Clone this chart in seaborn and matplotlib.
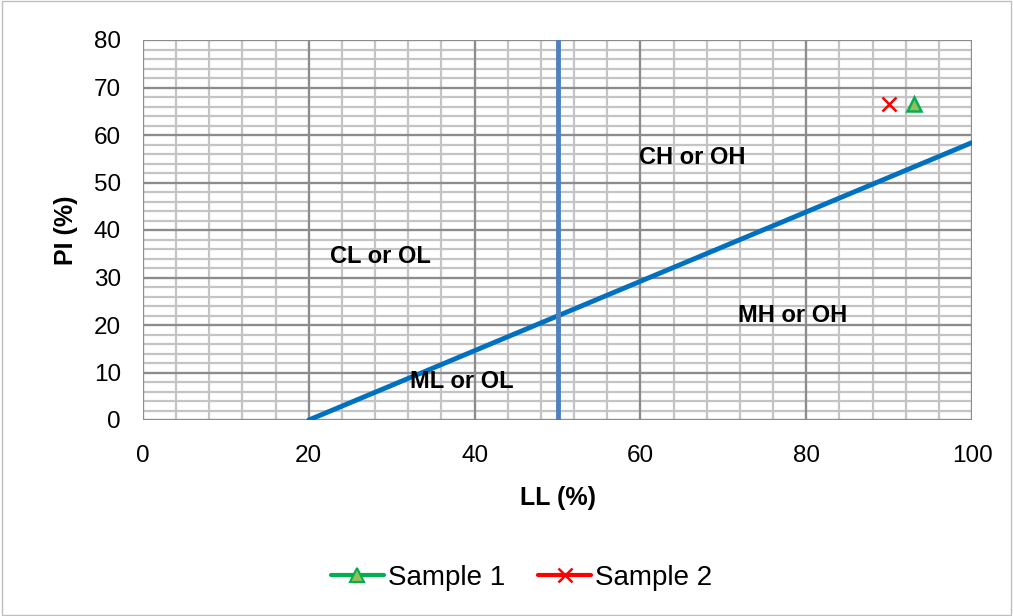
import matplotlib
matplotlib.use("Agg")
import matplotlib.pyplot as plt
import seaborn as sns
import pandas as pd
import numpy as np
from matplotlib.lines import Line2D

sns.set_style("white")
plt.rcParams['font.family'] = ['Liberation Sans', 'DejaVu Sans']
plt.rcParams['text.color'] = 'black'
plt.rcParams['axes.labelcolor'] = 'black'
plt.rcParams['xtick.labelcolor'] = 'black'
plt.rcParams['ytick.labelcolor'] = 'black'

# Data
a_line_ll = [20, 100]
a_line_pi = [0, 58.4]
ll50_x = [50, 50]
ll50_y = [0, 80]
sample1_ll = [93]
sample1_pi = [66.5]
sample2_ll = [90]
sample2_pi = [66.5]
zone_labels = ["CL or OL", "CH or OH", "MH or OH", "ML or OL"]
zone_x = [28.7, 66.3, 78.4, 38.5]
zone_y = [34.5, 55.3, 22.0, 8.0]
x_ticks = [0, 20, 40, 60, 80, 100]
y_ticks = [0, 10, 20, 30, 40, 50, 60, 70, 80]

fig = plt.figure(figsize=(10.13, 6.16), dpi=100)
ax = fig.add_axes([143/1013, 1-420/616, (972-143)/1013, (420-40)/616])

# grid
for v in np.arange(0, 101, 4):
    ax.axvline(v, color="#c4c4c4", lw=1.6, zorder=0)
for v in np.arange(0, 81, 2):
    ax.axhline(v, color="#c4c4c4", lw=1.6, zorder=0)
for v in x_ticks:
    ax.axvline(v, color="#8c8c8c", lw=1.6, zorder=0.5)
for v in y_ticks:
    ax.axhline(v, color="#8c8c8c", lw=1.6, zorder=0.5)

sns.lineplot(x=a_line_ll, y=a_line_pi, ax=ax, color="#0070C0", lw=3.5, zorder=3,
             estimator=None, sort=False)
sns.lineplot(x=ll50_x, y=ll50_y, ax=ax, color="#4F81BD", lw=3.5, zorder=3,
             estimator=None, sort=False)

ax.plot(sample2_ll, sample2_pi, marker="x", color="#FF0000", ms=10.5, mew=1.8,
        linestyle="none", zorder=4)
ax.plot(sample1_ll, sample1_pi, marker="^", color="#9BBB59", mec="#00B050",
        ms=10.5, mew=1.8, linestyle="none", zorder=4)

for t, x, y in zip(zone_labels, zone_x, zone_y):
    ax.text(x, y, t, ha="center", va="center", fontsize=17, fontweight="bold",
            color="black", zorder=5)

ax.set_xlim(0, 100)
ax.set_ylim(0, 80)
ax.set_xticks(x_ticks)
ax.set_yticks(y_ticks)
ax.tick_params(axis="both", labelsize=17.5, length=4, width=1.6, color="#8c8c8c", pad=12)
ax.tick_params(axis="x", pad=14)
for s in ax.spines.values():
    s.set_visible(False)
ax.set_xlabel("LL (%)", fontsize=18, fontweight="bold", labelpad=14)
ax.set_ylabel("PI (%)", fontsize=18, fontweight="bold", labelpad=11)

handles = [
    Line2D([0], [0], color="#00B050", lw=3, marker="^", mfc="#9BBB59", mec="#00B050", ms=10, mew=1.5),
    Line2D([0], [0], color="#FF0000", lw=3, marker="x", mec="#FF0000", ms=10, mew=1.8),
]
fig.legend(handles, ["Sample 1", "Sample 2"], loc="center", bbox_to_anchor=(0.515, 1-578/616),
           ncol=2, frameon=False, fontsize=20, handlelength=1.9, columnspacing=1.2,
           handletextpad=0.15)

fig.patches.append(plt.Rectangle((0.002, 0.002), 0.996, 0.996, transform=fig.transFigure,
                                 fill=False, edgecolor="#bfbfbf", lw=1))
fig.savefig("out.png", dpi=100)
